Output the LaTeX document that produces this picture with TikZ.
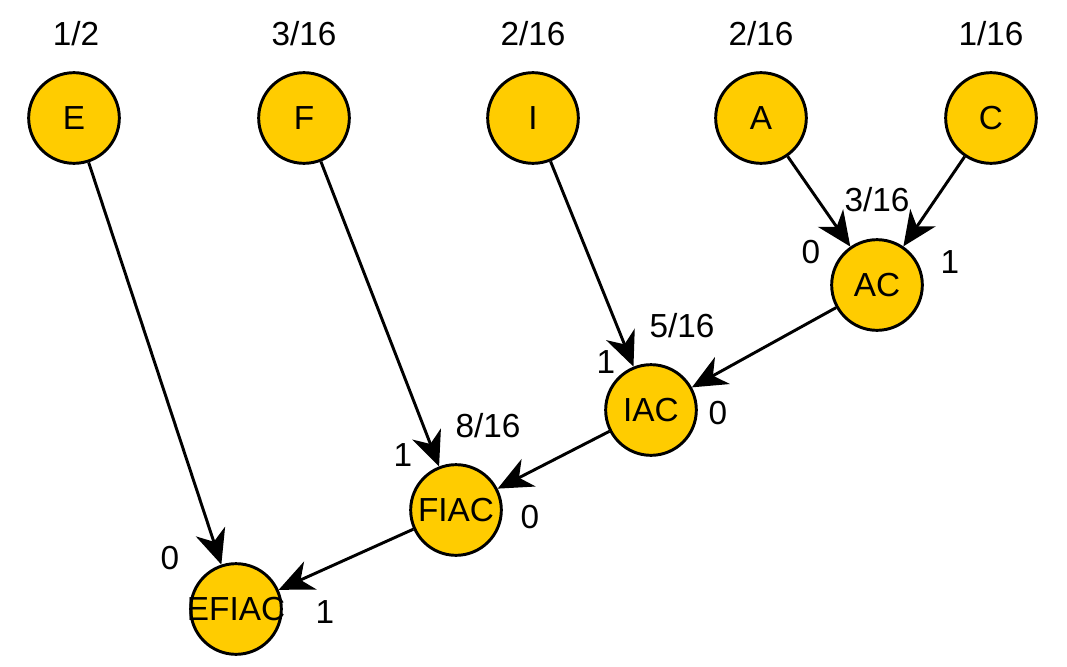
\documentclass[tikz,border=0pt]{standalone}
\usepackage{fontspec}
\setmainfont{Liberation Sans}
\usetikzlibrary{arrows.meta}

\definecolor{hgold}{RGB}{255,204,0}

\tikzset{
  hnode/.style={circle,draw=black,fill=hgold,line width=2.2pt,minimum size=68pt,inner sep=0pt},
  harrow/.style={draw=black,line width=2.2pt,arrows={-Stealth[length=26pt,width=23pt,inset=8pt]}},
  hlabel/.style={inner sep=0.75pt,font=\fontsize{25}{30}\selectfont},
}

\begin{document}
\begin{tikzpicture}[x=0.75pt,y=0.75pt,yscale=-1,xscale=1]
\useasboundingbox (0,0) rectangle (1067,667);

% Circle nodes
\node [hnode,label={[hlabel]center:E}] (E) at (74,118) {};
\node [hnode,label={[hlabel]center:F}] (F) at (304,118) {};
\node [hnode,label={[hlabel]center:I}] (I) at (533,118) {};
\node [hnode,label={[hlabel]center:A}] (A) at (761,118) {};
\node [hnode,label={[hlabel]center:C}] (C) at (991,118) {};
\node [hnode,label={[hlabel]center:AC}] (AC) at (877,285) {};
\node [hnode,label={[hlabel]center:IAC}] (IAC) at (651,410) {};
\node [hnode,label={[hlabel]center:FIAC}] (FIAC) at (456,510) {};
\node [hnode,label={[hlabel]center:EFIAC}] (EFIAC) at (236,609) {};

%Straight Lines
\draw [harrow] (A) -- (AC);
\draw [harrow] (C) -- (AC);
\draw [harrow] (AC) -- (IAC);
\draw [harrow] (I) -- (IAC);
\draw [harrow] (IAC) -- (FIAC);
\draw [harrow] (F) -- (FIAC);
\draw [harrow] (FIAC) -- (EFIAC);
\draw [harrow] (E) -- (EFIAC);

% Text Node
\node [hlabel] (pE) at (76,34) {1/2};
\node [hlabel] (pF) at (304,34) {3/16};
\node [hlabel] (pI) at (533,34) {2/16};
\node [hlabel] (pA) at (761,34) {2/16};
\node [hlabel] (pC) at (991,34) {1/16};
\node [hlabel] (pAC) at (877,200) {3/16};
\node [hlabel] (pIAC) at (682,326) {5/16};
\node [hlabel] (pFIAC) at (488,426) {8/16};
% Text Node
\node [hlabel] (bA) at (811,252) {0};
\node [hlabel] (bC) at (950,262) {1};
\node [hlabel] (bI) at (606,362) {1};
\node [hlabel] (bAC) at (718,413) {0};
\node [hlabel] (bF) at (403,455) {1};
\node [hlabel] (bIAC) at (530,517) {0};
\node [hlabel] (bE) at (170,558) {0};
\node [hlabel] (bFIAC) at (325,612) {1};

\end{tikzpicture}
\end{document}
